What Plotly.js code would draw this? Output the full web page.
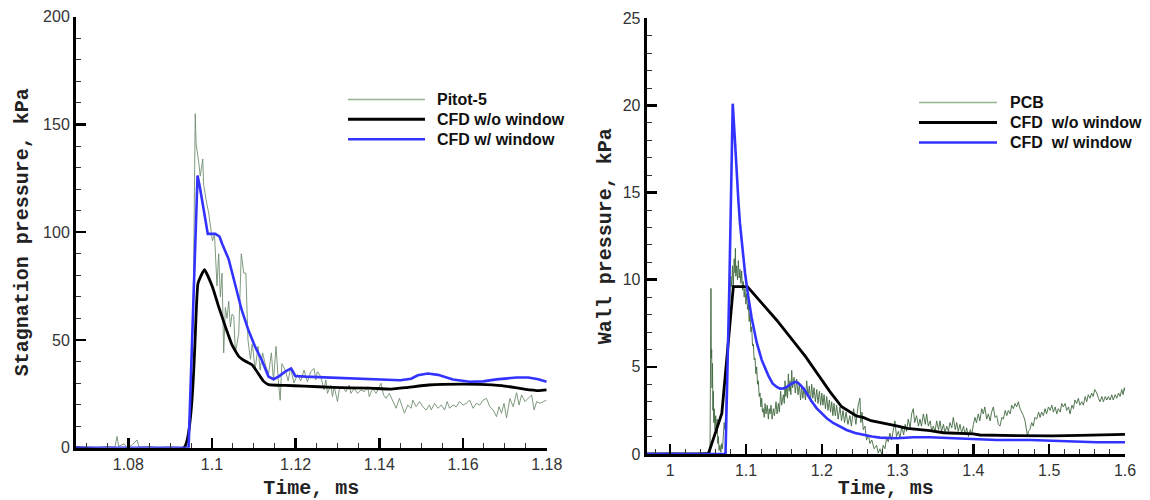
<!DOCTYPE html>
<html><head><meta charset="utf-8">
<script src="https://cdn.plot.ly/plotly-3.0.1.min.js"></script>
<style>html,body{margin:0;padding:0;background:#fff}#chart{width:1150px;height:500px}</style>
</head><body><div id="chart"></div><script>
// ---------- LEFT PANEL: stagnation pressure ----------
const pitotTime = [1.0675,1.0700,1.0725,1.0750,1.0768,1.0773,1.0777,1.0790,1.0796,1.0808,1.0821,1.0826,1.0850,1.0870,1.0900,1.0930,1.0946,1.0955,1.0960,1.0962,1.0968,1.0972,1.0978,1.0980,1.0986,1.0992,1.0997,1.1001,1.1006,1.1012,1.1016,1.1020,1.1024,1.1028,1.1032,1.1036,1.1040,1.1044,1.1048,1.1052,1.1056,1.1064,1.1070,1.1076,1.1081,1.1086,1.1092,1.1096,1.1099,1.1103,1.1110,1.1115,1.1121,1.1127,1.1135,1.1142,1.1147,1.1153,1.1159,1.1163,1.1167,1.1175,1.1182,1.1188,1.1196,1.1204,1.1212,1.1220,1.1228,1.1236,1.1244,1.1248,1.1252,1.1260,1.1268,1.1272,1.1276,1.1284,1.1288,1.1292,1.1300,1.1304,1.1312,1.1320,1.1328,1.1332,1.1340,1.1348,1.1356,1.1364,1.1372,1.1376,1.1384,1.1392,1.1400,1.1404,1.1410,1.1416,1.1424,1.1432,1.1440,1.1448,1.1454,1.1460,1.1468,1.1476,1.1480,1.1488,1.1496,1.1504,1.1512,1.1520,1.1524,1.1532,1.1540,1.1548,1.1556,1.1562,1.1568,1.1576,1.1584,1.1592,1.1600,1.1608,1.1616,1.1624,1.1632,1.1640,1.1648,1.1656,1.1664,1.1672,1.1680,1.1686,1.1692,1.1698,1.1704,1.1712,1.1720,1.1728,1.1734,1.1740,1.1748,1.1756,1.1764,1.1770,1.1776,1.1784,1.1792,1.1800];
const pitotP = [0,0.4,0,0.6,0.2,5.2,0.6,1.8,0,1.0,3.6,0.2,0.6,0,0.4,0,0.5,62,155,141,133,126,134,122,115,109,102,96,99,75,90,70,81,44,65,60,68,56,62,61,44,53,90,81,81,50,41,48,44,36,47,36,44,39,34,44,31,47,30,22,39,36,31,37,30,34,31,36,30.6,35.3,36.8,31.4,35.3,33,26.8,31.4,25.2,29.1,23.7,28.3,21.4,26.8,28.3,26.0,29.1,25.2,27.5,25.2,26.8,26.0,28.3,23.7,27.5,25.2,28.3,29.9,24.5,22.9,25.2,21.4,18.3,22.9,19.0,16.0,19.8,18.3,22.1,19.0,21.4,19.0,17.5,19.8,17.5,20.6,18.3,19.8,17.5,21.4,18.3,19.8,19.0,21.4,19.8,20.6,22.1,18.3,20.6,19.8,22.1,22.9,19.0,17.5,14.4,19.0,16.0,20.6,13.8,22.9,19.0,25.5,19.8,24.5,21.4,22.9,24.5,17.5,21.4,20.6,21.4,22.1];

const cfdNoWinTimeL = [1.0675,1.0933,1.09666,1.0982,1.1001,1.1016,1.1032,1.1048,1.1064,1.1080,1.1095,1.1107,1.1123,1.1135,1.1175,1.1220,1.1288,1.1376,1.1429,1.1464,1.1517,1.1552,1.1640,1.1693,1.1746,1.1781,1.1800];
const cfdNoWinPL = [0,0,76.3,82.6,74.7,65.4,56.2,47.7,42.4,40.1,38.6,35.5,30.9,29.3,28.9,28.6,28.0,27.6,27.2,27.9,29.1,29.4,29.4,28.8,27.2,26.5,26.8];

const cfdWinTimeL = [1.0675,1.0944,1.09655,1.0971,1.0990,1.1008,1.1018,1.1024,1.1040,1.1056,1.1071,1.1087,1.1103,1.1119,1.1135,1.1147,1.1159,1.1175,1.1189,1.1193,1.1199,1.1223,1.1300,1.1400,1.1450,1.1476,1.1492,1.1516,1.1540,1.1576,1.1616,1.1648,1.1680,1.1728,1.1756,1.1780,1.1800];
const cfdWinPL = [0,0,126.3,121,99.2,99.2,98,94.8,87.4,74.7,63.9,54.6,46.9,40.7,33.0,31.8,33.0,35.3,36.8,35.5,33.3,33.0,32.4,31.6,31.3,32.0,33.6,34.4,33.8,31.6,30.6,30.8,31.7,32.6,32.6,31.8,30.6];

// ---------- RIGHT PANEL: wall pressure ----------
const pcbTime = [0.97,1.00,1.03,1.050,1.0525,1.0534,1.0538,1.0542,1.0547,1.0552,1.0558,1.0564,1.0569,1.0575,1.0580,1.0591,1.0600,1.0613,1.0620,1.0628,1.0635,1.0645,1.0657,1.0668,1.0680,1.0690,1.0701,1.0712,1.0723,1.0734,1.0745,1.0756,1.0767,1.0778,1.0789,1.0800,1.0811,1.0822,1.0833,1.0844,1.0855,1.0860,1.0866,1.0877,1.0888,1.0899,1.0910,1.0921,1.0932,1.0943,1.0954,1.0965,1.0976,1.0987,1.0998,1.1009,1.1020,1.1031,1.1042,1.1053,1.1064,1.1075,1.1086,1.1097,1.1108,1.1119,1.1130,1.1141,1.1152,1.1163,1.1174,1.1185,1.1196,1.1207,1.1218,1.1229,1.1240,1.1252,1.1264,1.1280,1.1295,1.1306,1.1317,1.1330,1.1345,1.1361,1.1375,1.1396,1.1410,1.1427,1.1440,1.1457,1.1470,1.1493,1.1505,1.1515,1.1525,1.1537,1.1548,1.1559,1.1570,1.1581,1.1592,1.1603,1.1615,1.1634,1.1650,1.1669,1.1686,1.1704,1.1720,1.1735,1.1750,1.1766,1.1784,1.1801,1.1818,1.1836,1.1850,1.1867,1.1882,1.1898,1.1915,1.1933,1.1950,1.1968,1.1985,1.2000,1.2015,1.2030,1.2048,1.2065,1.2082,1.2100,1.2115,1.2131,1.2146,1.2161,1.2178,1.2196,1.2215,1.2240,1.2260,1.2280,1.2300,1.2320,1.2345,1.2371,1.2390,1.2420,1.2450,1.2480,1.2503,1.2515,1.2530,1.2547,1.2570,1.2590,1.2615,1.2635,1.2660,1.2690,1.2723,1.2745,1.2767,1.2790,1.2810,1.2833,1.2855,1.2877,1.2899,1.2920,1.2945,1.2965,1.2985,1.3010,1.3031,1.3055,1.3080,1.3100,1.3119,1.3140,1.3165,1.3185,1.3207,1.3225,1.3250,1.3275,1.3295,1.3315,1.3340,1.3365,1.3383,1.3405,1.3430,1.3450,1.3471,1.3495,1.3515,1.3540,1.3559,1.3580,1.3605,1.3625,1.3647,1.3670,1.3690,1.3715,1.3735,1.3760,1.3780,1.3800,1.3823,1.3845,1.3870,1.3890,1.3911,1.3935,1.3960,1.3977,1.4000,1.4021,1.4040,1.4065,1.4085,1.4110,1.4131,1.4150,1.4175,1.4197,1.4220,1.4240,1.4263,1.4285,1.4307,1.4330,1.4351,1.4375,1.4395,1.4420,1.4440,1.4461,1.4485,1.4505,1.4527,1.4550,1.4570,1.4593,1.4615,1.4637,1.4660,1.4681,1.4700,1.4715,1.4725,1.4745,1.4769,1.4790,1.4810,1.4835,1.4860,1.4880,1.4900,1.4923,1.4945,1.4965,1.4990,1.5011,1.5035,1.5055,1.5080,1.5099,1.5120,1.5145,1.5165,1.5187,1.5210,1.5230,1.5255,1.5275,1.5300,1.5320,1.5340,1.5363,1.5385,1.5405,1.5430,1.5451,1.5475,1.5495,1.5515,1.5539,1.5560,1.5580,1.5600,1.5627,1.5650,1.5670,1.5695,1.5715,1.5740,1.5760,1.5780,1.5803,1.5825,1.5845,1.5870,1.5891,1.5915,1.5935,1.5957,1.5975,1.5990,1.6000];
const pcbP = [0,0.05,0,0.1,0,4,9.5,5.5,6.0,3.8,5.2,2.5,3.6,1.8,2.6,1.4,2.2,1.2,2.0,0.6,1.0,0.2,0.5,0.1,0.6,0.3,0.9,1.8,1.4,3.2,3.8,5.6,6.4,8.4,8.9,10.2,9.6,10.8,9.6,11.2,10.4,11.8,10.2,10.8,10.0,11.1,10.1,10.6,9.8,10.5,9.4,9.9,9.0,9.5,8.6,9.2,8.3,8.6,7.6,8.1,7.0,7.3,6.2,6.3,5.4,5.5,4.6,5.0,4.0,4.2,3.3,3.5,2.7,3.2,2.4,2.6,2.1,2.9,2.3,2.8,2.0,2.6,2.3,2.8,2.0,2.6,2.2,3.0,2.3,2.9,2.4,3.6,2.8,3.4,2.9,4.2,3.3,3.9,3.2,4.6,3.6,4.2,3.4,4.8,3.8,4.4,3.5,4.3,3.4,4.0,3.1,3.9,3.2,3.8,3.1,4.2,3.3,3.9,3.0,4.0,3.2,3.8,3.0,3.7,2.9,3.6,2.8,3.5,2.8,3.4,2.6,3.3,2.5,3.1,2.4,3.0,2.2,2.9,2.2,2.8,2.0,2.7,1.9,2.5,1.8,2.4,1.7,2.2,1.6,2.6,1.7,2.8,3.2,1.8,2.4,1.4,1.6,0.8,1.1,0.6,0.8,0.3,0.5,0.05,0.3,0,0.5,0.3,0.9,0.7,1.2,0.8,1.5,1.9,1.0,1.3,0.9,1.6,1.1,1.7,1.3,2.0,1.5,2.3,2.6,1.8,2.2,1.6,2.0,1.6,2.3,1.7,2.3,1.6,1.9,1.3,1.6,1.3,1.9,1.4,1.9,1.3,1.7,1.2,1.6,1.3,1.8,1.5,2.1,1.4,1.8,1.3,1.7,1.2,1.6,1.1,1.5,1.0,1.4,1.1,1.7,2.1,1.8,2.3,1.9,2.6,2.3,2.7,2.0,2.3,1.9,2.4,2.7,2.1,2.2,1.7,1.6,2.1,2.0,2.5,2.2,2.5,2.3,2.8,2.6,2.9,2.7,3.0,2.6,2.4,2.2,1.9,1.5,1.0,1.3,1.4,1.8,1.6,2.1,2.0,2.4,2.1,2.4,2.2,2.6,2.3,2.7,2.5,2.8,2.4,2.7,2.3,2.6,2.4,2.9,2.7,2.9,2.5,2.7,2.3,2.8,2.6,3.1,2.9,3.2,2.8,3.0,2.8,3.3,3.0,3.4,3.2,3.5,3.3,3.7,3.5,3.2,3.0,3.3,3.0,3.3,3.1,3.3,3.1,3.4,3.1,3.4,3.2,3.5,3.3,3.7,3.4,3.8,3.6];

const cfdNoWinTimeR = [0.969,1.0503,1.0681,1.0833,1.1018,1.1403,1.1786,1.2002,1.2107,1.2262,1.2327,1.2457,1.2546,1.2648,1.2987,1.3127,1.3426,1.3606,1.3998,1.4085,1.4564,1.4749,1.5043,1.5410,1.5522,1.6000];
const cfdNoWinPR = [0,0,2.33,9.6,9.6,7.69,5.59,4.25,3.58,2.71,2.52,2.18,2.10,1.91,1.61,1.47,1.34,1.22,1.15,1.09,1.05,1.04,1.04,1.07,1.08,1.13];

const cfdWinTimeR = [0.969,1.0730,1.0780,1.0811,1.0825,1.0850,1.0877,1.0900,1.0921,1.0950,1.0987,1.1031,1.1075,1.1141,1.1207,1.1295,1.1350,1.1405,1.1450,1.1493,1.1540,1.1581,1.1620,1.1647,1.1680,1.1713,1.1760,1.1801,1.1870,1.1933,1.2000,1.2065,1.2150,1.2240,1.2327,1.2440,1.2546,1.2660,1.2766,1.2880,1.2987,1.3100,1.3206,1.3426,1.3866,1.4306,1.4749,1.5187,1.5627,1.6000];
const cfdWinPR = [0,0,9.6,16.9,20.1,18.3,16.0,14.5,13.2,11.8,10.4,9.0,7.8,6.4,5.4,4.5,4.05,3.85,3.75,3.76,3.85,3.98,4.1,4.14,4.1,3.98,3.75,3.45,3.0,2.62,2.3,2.05,1.78,1.57,1.38,1.2,1.09,1.0,0.94,0.91,0.90,0.93,0.96,0.96,0.86,0.80,0.80,0.74,0.67,0.67];

const legendLeft = ['Pitot-5', 'CFD w/o window', 'CFD w/ window'];
const legendRight = ['PCB', 'CFD\u00a0 w/o window', 'CFD\u00a0 w/ window'];
const xTitle = 'Time, ms';
const yTitleLeft = 'Stagnation pressure, kPa';
const yTitleRight = 'Wall pressure, kPa';

// ---------- styling ----------
const GREEN_L = '#728f72', GREEN_R = '#41693f', BLUE = '#3333ff';
const tickFont = {family: 'Liberation Sans, Arial, sans-serif', size: 16, color: '#333'};
const titleFont = {family: 'Liberation Mono, Courier New, monospace', size: 20, color: '#222', weight: 'bold'};

function axis(extra) {
  return Object.assign({
    showline: true, linecolor: '#000', linewidth: 3, mirror: false,
    ticks: 'inside', ticklen: 10, tickwidth: 2.5, tickcolor: '#000',
    showgrid: false, zeroline: false, tickfont: tickFont, fixedrange: true
  }, extra);
}

const traces = [
  {x: pitotTime, y: pitotP, xaxis: 'x', yaxis: 'y', type: 'scatter', mode: 'lines', name: legendLeft[0], line: {color: GREEN_L, width: 0.9}},
  {x: cfdNoWinTimeL, y: cfdNoWinPL, xaxis: 'x', yaxis: 'y', type: 'scatter', mode: 'lines', name: legendLeft[1], line: {color: '#000', width: 2.8, shape: 'spline', smoothing: 0.4}},
  {x: cfdWinTimeL, y: cfdWinPL, xaxis: 'x', yaxis: 'y', type: 'scatter', mode: 'lines', name: legendLeft[2], line: {color: BLUE, width: 2.6}},
  {x: pcbTime, y: pcbP, xaxis: 'x2', yaxis: 'y2', type: 'scatter', mode: 'lines', name: legendRight[0], line: {color: GREEN_R, width: 0.9}},
  {x: cfdNoWinTimeR, y: cfdNoWinPR, xaxis: 'x2', yaxis: 'y2', type: 'scatter', mode: 'lines', name: 'CFD w/o window', line: {color: '#000', width: 2.8}},
  {x: cfdWinTimeR, y: cfdWinPR, xaxis: 'x2', yaxis: 'y2', type: 'scatter', mode: 'lines', name: 'CFD w/ window', line: {color: BLUE, width: 2.6}}
];

const W = 1150, H = 500, ML = 76, MR = 25, MT = 16, MB = 46;
const PX = px => (px - ML) / (W - ML - MR);
const PY = py => (H - MB - py) / (H - MT - MB);

const shapes = [], annotations = [];
function addLegend(x0, x1, xt, ys, labels, colors, widths) {
  labels.forEach((lab, i) => {
    shapes.push({type: 'line', xref: 'paper', yref: 'paper', x0: PX(x0), x1: PX(x1), y0: PY(ys[i]), y1: PY(ys[i]), line: {color: colors[i], width: widths[i]}});
    annotations.push({xref: 'paper', yref: 'paper', x: PX(xt), y: PY(ys[i]), xanchor: 'left', yanchor: 'middle', showarrow: false,
      text: '<b>' + lab + '</b>', font: {family: 'Liberation Sans, Arial, sans-serif', size: 16, color: '#111'}});
  });
}
addLegend(348, 425, 435, [99.5, 119.3, 139.3], legendLeft, ['#93b593', '#000', BLUE], [1.3, 3, 2.6]);
addLegend(919, 997, 1008, [102.5, 122.5, 142.5], legendRight, ['#93b593', '#000', BLUE], [1.3, 3, 2.6]);

const layout = {
  width: W, height: H, margin: {l: ML, r: MR, t: MT, b: MB},
  paper_bgcolor: '#fff', plot_bgcolor: '#fff', showlegend: false,
  xaxis: axis({domain: [0, PX(546.7)], anchor: 'y', range: [1.0675, 1.18], tick0: 1.08, dtick: 0.02,
    minor: {ticks: 'inside', ticklen: 5, tickwidth: 1, tickcolor: '#333', dtick: 0.005, tick0: 1.08},
    title: {text: xTitle, font: titleFont, standoff: 12}}),
  yaxis: axis({domain: [PY(447.7), PY(16.7)], anchor: 'x', range: [0, 200], dtick: 50,
    minor: {ticks: 'inside', ticklen: 5, tickwidth: 1, tickcolor: '#333', dtick: 10},
    title: {text: yTitleLeft, font: titleFont, standoff: 10}}),
  xaxis2: axis({domain: [PX(646.7), 1], anchor: 'y2', range: [0.969, 1.6], tick0: 1, dtick: 0.1,
    minor: {ticks: 'inside', ticklen: 5, tickwidth: 1, tickcolor: '#333', dtick: 0.02, tick0: 1},
    title: {text: xTitle, font: titleFont, standoff: 1}}),
  yaxis2: axis({domain: [0, PY(18.3)], anchor: 'x2', range: [0, 25], dtick: 5,
    minor: {ticks: 'inside', ticklen: 5, tickwidth: 1, tickcolor: '#333', dtick: 1},
    title: {text: yTitleRight, font: titleFont, standoff: 6}}),
  shapes: shapes, annotations: annotations
};

Plotly.newPlot('chart', traces, layout, {displayModeBar: false, staticPlot: true});
</script></body></html>
